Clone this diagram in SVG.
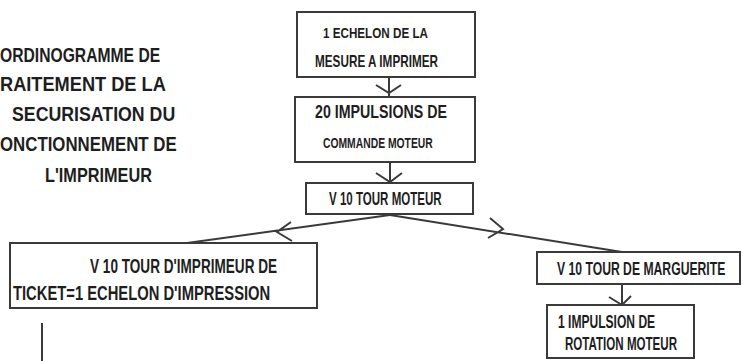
<svg xmlns="http://www.w3.org/2000/svg" width="743" height="361" viewBox="0 0 743 361">
<style>
.box{fill:#fff;stroke:#3a3a3a;stroke-width:2}
.ln{fill:none;stroke:#3a3a3a;stroke-width:2}
.t{font-family:"Liberation Sans",Arial,sans-serif;fill:#1e1e1e;font-weight:bold}
.tt{font-size:21px}
</style>
<rect width="743" height="361" fill="#fff"/>
<g id="title" class="t tt">
<text transform="translate(0,62) scale(0.745,1)" textLength="215" lengthAdjust="spacingAndGlyphs">ORDINOGRAMME DE</text>
<text transform="translate(0,91) scale(0.868,1)" textLength="191" lengthAdjust="spacingAndGlyphs">RAITEMENT DE LA</text>
<text transform="translate(12,121) scale(0.837,1)" textLength="195" lengthAdjust="spacingAndGlyphs">SECURISATION DU</text>
<text transform="translate(0,151) scale(0.803,1)" textLength="220" lengthAdjust="spacingAndGlyphs">ONCTIONNEMENT DE</text>
<text transform="translate(45,182) scale(0.775,1)" textLength="138" lengthAdjust="spacingAndGlyphs">L'IMPRIMEUR</text>
</g>
<g id="connectors">
<path class="ln" d="M389 77 V97 M376 85 L389 93 L401 85"/>
<path class="ln" d="M390 162 V183 M376 173 L390 182 L402 173"/>
<path class="ln" d="M390 215 L187 243 M291 222 L277 232 L292 241"/>
<path class="ln" d="M390 215 L622 252 M490 218 L503 229 L488 238"/>
<path class="ln" d="M622 284 V306 M609 297 L622 305 L631 296"/>
<path class="ln" d="M42 323 V361"/>
</g>
<g id="n1">
<rect class="box" x="297" y="12" width="178" height="65"/>
<text class="t" transform="translate(323,38) scale(0.833,1)" font-size="14" textLength="126" lengthAdjust="spacingAndGlyphs">1 ECHELON DE LA</text>
<text class="t" transform="translate(315,67) scale(0.728,1)" font-size="16" textLength="169" lengthAdjust="spacingAndGlyphs">MESURE A IMPRIMER</text>
</g>
<g id="n2">
<rect class="box" x="295" y="97" width="180" height="65"/>
<text class="t" transform="translate(315,118) scale(0.79,1)" font-size="18" textLength="167" lengthAdjust="spacingAndGlyphs">20 IMPULSIONS DE</text>
<text class="t" transform="translate(323,148) scale(0.69,1)" font-size="15" textLength="159" lengthAdjust="spacingAndGlyphs">COMMANDE MOTEUR</text>
</g>
<g id="n3">
<rect class="box" x="306" y="183" width="167" height="31"/>
<text class="t" transform="translate(329,205) scale(0.64,1)" font-size="18" textLength="176" lengthAdjust="spacingAndGlyphs">V 10 TOUR MOTEUR</text>
</g>
<g id="n4">
<rect class="box" x="10" y="243" width="307" height="65"/>
<text class="t" transform="translate(90,273) scale(0.678,1)" font-size="20" textLength="276" lengthAdjust="spacingAndGlyphs">V 10 TOUR D'IMPRIMEUR DE</text>
<text class="t" transform="translate(13,300) scale(0.737,1)" font-size="20" textLength="349" lengthAdjust="spacingAndGlyphs">TICKET=1 ECHELON D'IMPRESSION</text>
</g>
<g id="n5">
<rect class="box" x="537" y="252" width="203" height="32"/>
<text class="t" transform="translate(557,275) scale(0.64,1)" font-size="19" textLength="263" lengthAdjust="spacingAndGlyphs">V 10 TOUR DE MARGUERITE</text>
</g>
<g id="n6">
<rect class="box" x="547" y="305" width="147" height="53"/>
<text class="t" transform="translate(558,328) scale(0.67,1)" font-size="18" textLength="145" lengthAdjust="spacingAndGlyphs">1 IMPULSION DE</text>
<text class="t" transform="translate(565,350) scale(0.633,1)" font-size="18" textLength="177" lengthAdjust="spacingAndGlyphs">ROTATION MOTEUR</text>
</g>
</svg>
